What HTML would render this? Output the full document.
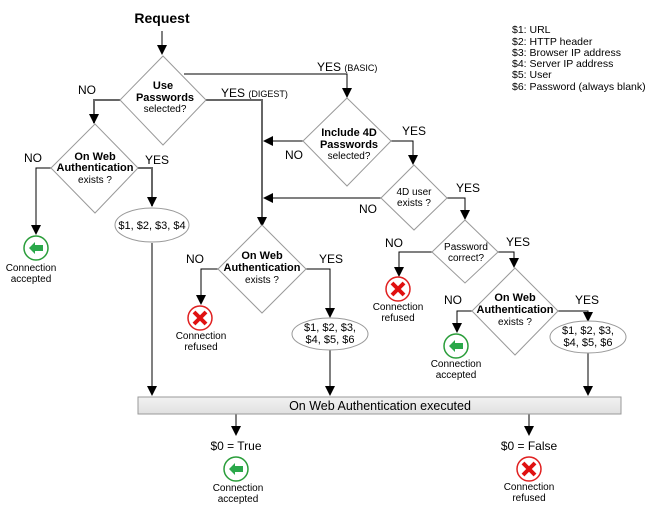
<!DOCTYPE html>
<html><head><meta charset="utf-8"><style>
body{margin:0;background:#fff}
svg{display:block;font-family:"Liberation Sans",Arial,sans-serif}
.d{fill:#fff;stroke:#999;stroke-width:1}
.l{stroke:#000;stroke-width:1;fill:none}
.g{stroke:#666;stroke-width:2;fill:none}
.t{font-size:11px;font-weight:bold;text-anchor:middle}
.s{font-size:10px;text-anchor:middle}
.y{font-size:12px}
.e{font-size:11px;text-anchor:middle}
</style></head><body>
<svg width="666" height="508" viewBox="0 0 666 508">
<defs>
<marker id="a" markerWidth="10" markerHeight="10" refX="9" refY="5" orient="auto" markerUnits="userSpaceOnUse"><path d="M0,0 L10,5 L0,10z" fill="#000"/></marker>
<g id="ok"><circle r="12" fill="#fff" stroke="#2a9d3a" stroke-width="1.5"/><path d="M-7,0 L-1,-6 L-1,-3 L7,-3 L7,3 L-1,3 L-1,6z" fill="#2aa84a"/></g>
<g id="no"><circle r="12" fill="#fff" stroke="#e02020" stroke-width="1.5"/><path d="M-6,-6 L6,6 M6,-6 L-6,6" stroke="#e01010" stroke-width="4"/></g>
</defs>
<text x="162" y="23" font-size="14" font-weight="bold" text-anchor="middle">Request</text>
<path class="l" d="M162,31 V54" marker-end="url(#a)"/>
<path class="l" d="M184,74 H347 V97" marker-end="url(#a)"/>
<path class="g" d="M206,100 H262 V226" marker-end="url(#a)"/>
<path class="g" d="M120,100 H94 V123" marker-end="url(#a)"/>
<path class="l" d="M51,168 H36 V234" marker-end="url(#a)"/>
<path class="g" d="M138,168 H152 V206" marker-end="url(#a)"/>
<path class="l" d="M152,243 V395" marker-end="url(#a)"/>
<path class="l" d="M303,141 H264" marker-end="url(#a)"/>
<path class="l" d="M391,141 H413 V164" marker-end="url(#a)"/>
<path class="l" d="M381,198 H264" marker-end="url(#a)"/>
<path class="l" d="M447,198 H465 V219" marker-end="url(#a)"/>
<path class="l" d="M432,252 H399 V276" marker-end="url(#a)"/>
<path class="l" d="M498,252 H514 V267" marker-end="url(#a)"/>
<path class="l" d="M218,269 H201 V304" marker-end="url(#a)"/>
<path class="l" d="M306,269 H330 V317" marker-end="url(#a)"/>
<path class="l" d="M472,311 H457 V332" marker-end="url(#a)"/>
<path class="l" d="M558,311 H588 V321" marker-end="url(#a)"/>
<path class="l" d="M330,350 V395" marker-end="url(#a)"/>
<path class="l" d="M588,352 V395" marker-end="url(#a)"/>
<path class="l" d="M236,414 V435" marker-end="url(#a)"/>
<path class="l" d="M529,414 V435" marker-end="url(#a)"/>
<polygon class="d" points="163,56 206,100 163,145 120,100"/>
<text class="t" x="163" y="89">Use</text><text class="t" x="165" y="101">Passwords</text><text class="s" x="165" y="112">selected?</text>
<polygon class="d" points="95,124 138,168 95,213 51,168"/>
<text class="t" x="95" y="160">On Web</text><text class="t" x="95" y="171">Authentication</text><text class="s" x="95" y="183">exists ?</text>
<polygon class="d" points="347,98 391,141 347,186 303,141"/>
<text class="t" x="349" y="136">Include 4D</text><text class="t" x="349" y="148">Passwords</text><text class="s" x="349" y="159">selected?</text>
<polygon class="d" points="414,165 447,198 414,230 381,198"/>
<text class="s" x="414" y="195">4D user</text><text class="s" x="414" y="206">exists ?</text>
<polygon class="d" points="465,220 498,252 465,283 432,252"/>
<text class="s" x="466" y="250">Password</text><text class="s" x="466" y="261">correct?</text>
<polygon class="d" points="262,225 306,269 262,313 218,269"/>
<text class="t" x="262" y="259">On Web</text><text class="t" x="262" y="271">Authentication</text><text class="s" x="262" y="283">exists ?</text>
<polygon class="d" points="515,268 558,311 515,355 472,311"/>
<text class="t" x="515" y="301">On Web</text><text class="t" x="515" y="313">Authentication</text><text class="s" x="515" y="325">exists ?</text>
<ellipse cx="152" cy="225" rx="37" ry="17" class="d"/>
<text class="e" x="152" y="229">$1, $2, $3, $4</text>
<ellipse cx="330" cy="334" rx="38" ry="16" class="d"/>
<text class="e" x="330" y="331">$1, $2, $3,</text><text class="e" x="330" y="343">$4, $5, $6</text>
<ellipse cx="588" cy="337" rx="38" ry="16" class="d"/>
<text class="e" x="588" y="334">$1, $2, $3,</text><text class="e" x="588" y="346">$4, $5, $6</text>
<defs><linearGradient id="bg" x1="0" y1="0" x2="0" y2="1"><stop offset="0" stop-color="#f2f2f2"/><stop offset="1" stop-color="#e0e0e0"/></linearGradient></defs>
<rect x="138" y="397" width="483" height="17" fill="url(#bg)" stroke="#999"/>
<text x="380" y="410" font-size="12.5" text-anchor="middle">On Web Authentication executed</text>
<text class="y" x="317" y="71">YES <tspan font-size="9">(BASIC)</tspan></text>
<text class="y" x="221" y="97">YES <tspan font-size="9">(DIGEST)</tspan></text>
<text class="y" x="78" y="94">NO</text>
<text class="y" x="24" y="162">NO</text>
<text class="y" x="145" y="164">YES</text>
<text class="y" x="285" y="159">NO</text>
<text class="y" x="402" y="135">YES</text>
<text class="y" x="359" y="213">NO</text>
<text class="y" x="456" y="192">YES</text>
<text class="y" x="385" y="247">NO</text>
<text class="y" x="506" y="246">YES</text>
<text class="y" x="186" y="263">NO</text>
<text class="y" x="319" y="263">YES</text>
<text class="y" x="444" y="304">NO</text>
<text class="y" x="575" y="304">YES</text>
<text class="y" x="236" y="450" text-anchor="middle">$0 = True</text>
<text class="y" x="529" y="450" text-anchor="middle">$0 = False</text>
<use href="#ok" x="36" y="248"/>
<text class="s" x="31" y="271">Connection</text><text class="s" x="31" y="282">accepted</text>
<use href="#no" x="200" y="318"/>
<text class="s" x="201" y="339">Connection</text><text class="s" x="201" y="350">refused</text>
<use href="#no" x="398" y="289"/>
<text class="s" x="398" y="310">Connection</text><text class="s" x="398" y="321">refused</text>
<use href="#ok" x="456" y="346"/>
<text class="s" x="456" y="367">Connection</text><text class="s" x="456" y="378">accepted</text>
<use href="#ok" x="236" y="469"/>
<text class="s" x="238" y="491">Connection</text><text class="s" x="238" y="502">accepted</text>
<use href="#no" x="529" y="469"/>
<text class="s" x="529" y="490">Connection</text><text class="s" x="529" y="501">refused</text>
<g font-size="10.5">
<text x="512" y="33">$1: URL</text>
<text x="512" y="45">$2: HTTP header</text>
<text x="512" y="56">$3: Browser IP address</text>
<text x="512" y="67">$4: Server IP address</text>
<text x="512" y="78">$5: User</text>
<text x="512" y="90">$6: Password (always blank)</text>
</g>
</svg>
</body></html>
